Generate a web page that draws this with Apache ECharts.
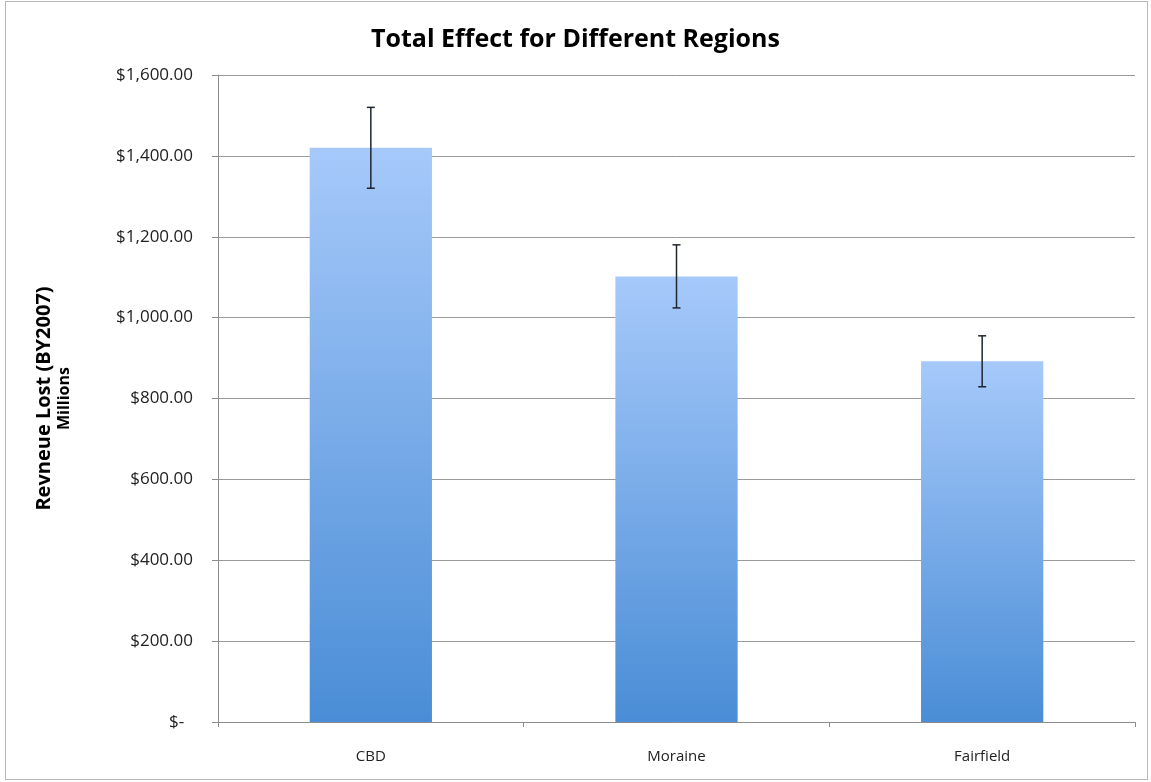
<!DOCTYPE html>
<html><head><meta charset="utf-8">
<script src="https://cdn.jsdelivr.net/npm/echarts@6/dist/echarts.min.js"></script>
<style>
html,body{margin:0;padding:0;background:#fff;}
#frame{position:absolute;left:5px;top:1px;width:1141px;height:777px;border:1px solid #b8b8b8;}
#chart{position:absolute;left:0;top:0;width:1151px;height:782px;}
</style></head>
<body>
<div id="frame"></div>
<div id="chart"></div>
<script>
const categories = ['CBD', 'Moraine', 'Fairfield'];
const revenueLost = [1420, 1102, 892];
const errorAmount = [100, 78, 63];
const yTickValues = [0, 200, 400, 600, 800, 1000, 1200, 1400, 1600];

const font = '"Open Sans", "Liberation Sans", sans-serif';
const chart = echarts.init(document.getElementById('chart'));

function fmt(v) {
  if (v === 0) return '$-  ';
  return '$' + v.toLocaleString('en-US', {minimumFractionDigits: 2, maximumFractionDigits: 2});
}

const errData = categories.map((c, i) => [i, revenueLost[i] - errorAmount[i], revenueLost[i] + errorAmount[i]]);

chart.setOption({
  animation: false,
  title: {
    text: 'Total Effect for Different Regions',
    left: 'center', top: 22,
    textStyle: {fontFamily: font, fontSize: 25, fontWeight: 'bold', color: '#000'}
  },
  grid: {left: 218, right: 16, top: 75, bottom: 60},
  xAxis: {
    type: 'category',
    data: categories,
    axisLine: {lineStyle: {color: '#8c8c8c', width: 1}},
    axisTick: {show: true, length: 5, lineStyle: {color: '#8c8c8c'}},
    axisLabel: {fontFamily: font, fontSize: 15, color: '#222', margin: 27}
  },
  yAxis: {
    type: 'value',
    min: 0, max: 1600, interval: 200,
    name: '{a|Revneue Lost (BY2007)}\n{b|Millions}',
    nameLocation: 'middle',
    nameRotate: 90,
    nameGap: 145,
    nameTextStyle: {
      rich: {
        a: {fontFamily: font, fontSize: 20, fontWeight: 'bold', color: '#000', lineHeight: 22},
        b: {fontFamily: font, fontSize: 16, fontWeight: 'bold', color: '#000', lineHeight: 18}
      }
    },
    axisLine: {show: true, lineStyle: {color: '#8c8c8c', width: 1}},
    axisTick: {show: true, length: 6, lineStyle: {color: '#8c8c8c'}},
    axisLabel: {
      fontFamily: font, fontSize: 17, color: '#222', margin: 25,
      formatter: function (v) { return yTickValues.indexOf(v) >= 0 ? fmt(v) : ''; }
    },
    splitLine: {show: true, lineStyle: {color: '#9a9a9a', width: 1}}
  },
  series: [
    {
      type: 'bar',
      data: revenueLost,
      barWidth: '40%',
      itemStyle: {
        color: new echarts.graphic.LinearGradient(0, 0, 0, 1, [
          {offset: 0, color: '#a6c9fa'},
          {offset: 1, color: '#4a8dd6'}
        ])
      }
    },
    {
      type: 'custom',
      data: errData,
      z: 10,
      renderItem: function (params, api) {
        const x = api.value(0);
        const lo = api.coord([x, api.value(1)]);
        const hi = api.coord([x, api.value(2)]);
        const hw = 4;
        const style = {stroke: '#1f2630', lineWidth: 1.5};
        return {
          type: 'group',
          children: [
            {type: 'line', shape: {x1: hi[0], y1: hi[1], x2: lo[0], y2: lo[1]}, style: style},
            {type: 'line', shape: {x1: hi[0] - hw, y1: hi[1], x2: hi[0] + hw, y2: hi[1]}, style: style},
            {type: 'line', shape: {x1: lo[0] - hw, y1: lo[1], x2: lo[0] + hw, y2: lo[1]}, style: style}
          ]
        };
      }
    }
  ]
});
</script>
</body></html>
